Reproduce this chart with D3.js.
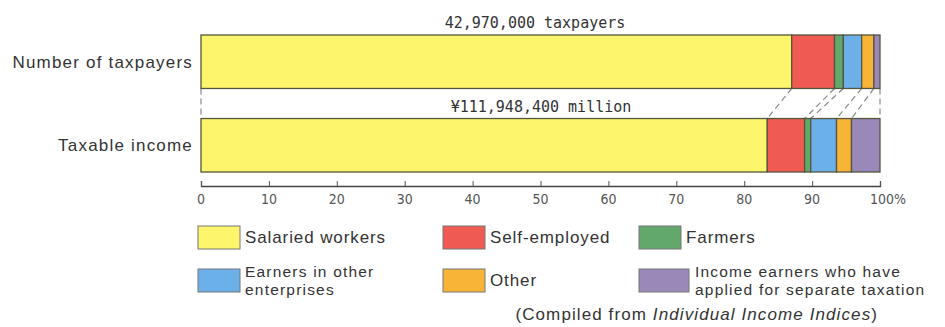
<!DOCTYPE html>
<html>
<head>
<meta charset="utf-8">
<script src="https://cdn.jsdelivr.net/npm/d3@7"></script>
<style>
  body { margin: 0; background: #fff; }
  svg { display: block; }
  text { fill: #333; }
</style>
</head>
<body>
<div id="chart"></div>
<script>
const width = 945,
  height = 327;

// data
const rows = ["Number of taxpayers", "Taxable income"];
const rowTotals = ["42,970,000 taxpayers", "\u00a5111,948,400 million"];
const groups = [
  "Salaried workers",
  "Self-employed",
  "Farmers",
  "Earners in other enterprises",
  "Other",
  "Income earners who have applied for separate taxation",
];
const taxpayers = [87.0, 6.3, 1.3, 2.7, 1.8, 0.9];
const income = [83.4, 5.5, 0.9, 3.8, 2.2, 4.2];
const ticks = [0, 10, 20, 30, 40, 50, 60, 70, 80, 90, 100];
const colors = ["#fdf56c", "#ef5b52", "#62a86c", "#6cb0ea", "#f8b436", "#9a88b9"];

const svg = d3
  .select("#chart")
  .append("svg")
  .attr("width", width)
  .attr("height", height);

const x = d3.scaleLinear().domain([0, 100]).range([201, 880]);
const y = d3
  .scaleBand()
  .domain(rows)
  .range([35, 172])
  .paddingInner(0.36)
  .paddingOuter(0);
const color = d3.scaleOrdinal().domain(groups).range(colors);

// stack the shares
const series = [taxpayers, income];
const stacked = series.map(function (vals, i) {
  let acc = 0;
  return vals.map(function (v, j) {
    const d = { row: rows[i], key: groups[j], x0: acc, x1: acc + v };
    acc += v;
    return d;
  });
});

// dashed connectors between the two bars
const bounds = [0].concat(stacked[0].map((d) => d.x1));
const bounds2 = [0].concat(stacked[1].map((d) => d.x1));
svg
  .selectAll(".link")
  .data(bounds)
  .enter()
  .append("line")
  .attr("x1", (d) => x(Math.min(d, 100)))
  .attr("y1", y(rows[0]) + y.bandwidth())
  .attr("x2", (d, i) => x(Math.min(bounds2[i], 100)))
  .attr("y2", y(rows[1]))
  .attr("stroke", "#8a8a8a")
  .attr("stroke-width", 1.2)
  .attr("stroke-dasharray", "6,4");

// bars
svg
  .selectAll(".row")
  .data(stacked)
  .enter()
  .append("g")
  .selectAll("rect")
  .data((d) => d)
  .enter()
  .append("rect")
  .attr("x", (d) => x(d.x0))
  .attr("y", (d) => y(d.row))
  .attr("width", (d) => x(d.x1) - x(d.x0))
  .attr("height", y.bandwidth())
  .attr("fill", (d) => color(d.key))
  .attr("stroke", "#55553f")
  .attr("stroke-width", 1.3);

// row labels
svg
  .selectAll(".rowlabel")
  .data(rows)
  .enter()
  .append("text")
  .attr("x", 193)
  .attr("y", (d) => y(d) + y.bandwidth() / 2)
  .attr("dy", "0.35em")
  .attr("text-anchor", "end")
  .style("font-family", "Liberation Sans, Arial, sans-serif")
  .style("font-size", "17px")
  .style("letter-spacing", "1.2px")
  .text((d) => d);

// totals above each bar
svg
  .selectAll(".total")
  .data(rowTotals)
  .enter()
  .append("text")
  .attr("x", (d, i) => (i === 0 ? 535 : 541))
  .attr("y", (d, i) => y(rows[i]) - 7)
  .attr("text-anchor", "middle")
  .style("font-family", "DejaVu Sans Mono, monospace")
  .style("font-size", "15px")
  .text((d) => d);

// axis
const axis = svg.append("g").attr("transform", "translate(0,186)");
axis
  .call(d3.axisTop(x).tickValues(ticks).tickSize(5).tickFormat(""))
  .call((g) => g.select(".domain").attr("stroke", "#444").attr("stroke-width", 1.3))
  .call((g) => g.selectAll(".tick line").attr("stroke", "#555"));
axis
  .selectAll(".ticklabel")
  .data(ticks)
  .enter()
  .append("text")
  .attr("x", (d) => x(d))
  .attr("y", 18)
  .attr("text-anchor", (d) => (d === 100 ? "start" : "middle"))
  .attr("dx", (d) => (d === 100 ? -10 : 0))
  .style("font-family", "DejaVu Sans Condensed, Liberation Sans Narrow, sans-serif")
  .style("font-stretch", "condensed")
  .style("font-size", "14px")
  .style("fill", "#555")
  .text((d) => (d === 100 ? "100%" : d));

// legend
const legendCols = [198, 443, 639];
const legendRows = [226, 269];
const legendLines = [
  ["Salaried workers"],
  ["Self-employed"],
  ["Farmers"],
  ["Earners in other", "enterprises"],
  ["Other"],
  ["Income earners who have", "applied for separate taxation"],
];
const legend = svg
  .selectAll(".legend")
  .data(groups)
  .enter()
  .append("g")
  .attr("transform", (d, i) => `translate(${legendCols[i % 3]},${legendRows[Math.floor(i / 3)]})`);
legend
  .append("rect")
  .attr("width", (d, i) => (i === 5 ? 50 : 42))
  .attr("height", 23)
  .attr("fill", (d) => color(d))
  .attr("stroke", "#777")
  .attr("stroke-width", 1);
legend.each(function (d, i) {
  const lines = legendLines[i];
  const two = lines.length > 1;
  const t = d3
    .select(this)
    .append("text")
    .attr("x", i === 5 ? 56 : 47)
    .attr("y", two ? 8 : 17)
    .style("font-family", "Liberation Sans, Arial, sans-serif")
    .style("font-size", two ? "15.5px" : "17px")
    .style("letter-spacing", two ? "1.2px" : "0.9px");
  lines.forEach(function (l, k) {
    t.append("tspan")
      .attr("x", i === 5 ? 56 : 47)
      .attr("dy", k === 0 ? 0 : 18)
      .text(l);
  });
});

// source note
const note = svg
  .append("text")
  .attr("x", 878)
  .attr("y", 320)
  .attr("text-anchor", "end")
  .style("font-family", "Liberation Sans, Arial, sans-serif")
  .style("font-size", "17px")
  .style("letter-spacing", "1.1px");
note.append("tspan").text("(Compiled from ");
note.append("tspan").style("font-style", "italic").text("Individual Income Indices");
note.append("tspan").text(")");
</script>
</body>
</html>
